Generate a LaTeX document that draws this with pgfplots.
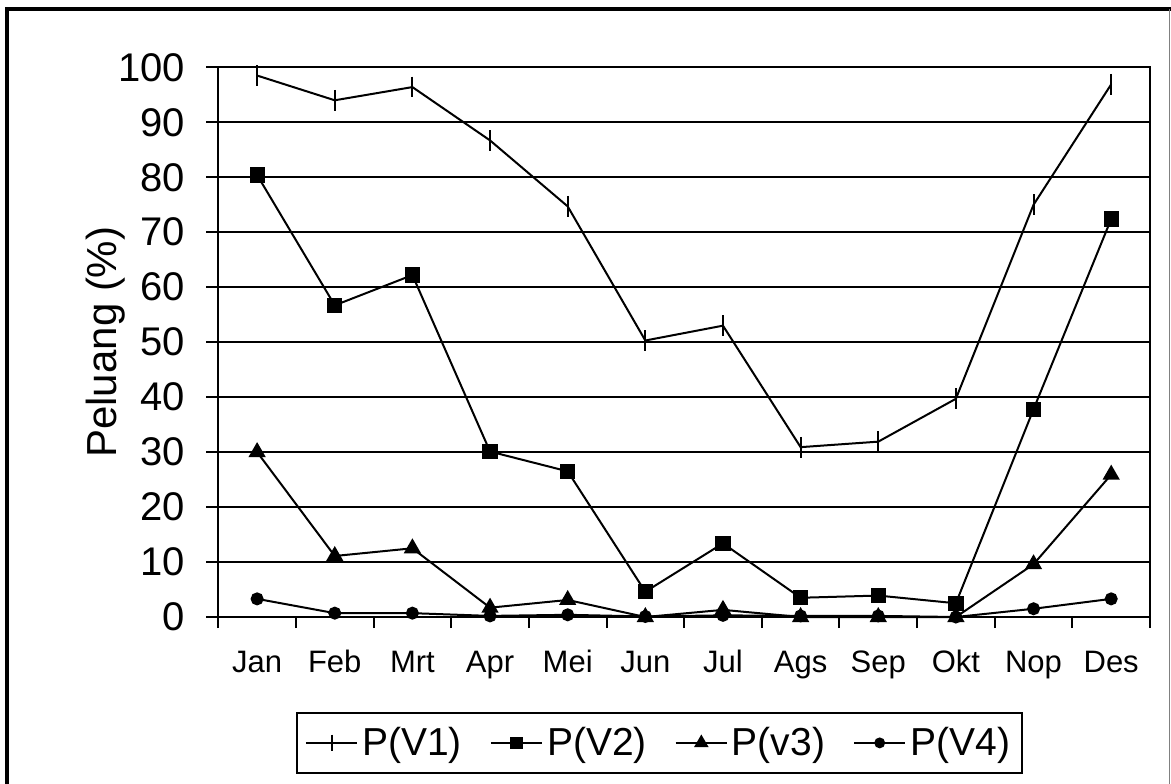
\documentclass[border=0pt]{standalone}
\usepackage{fontspec}
\setmainfont{Liberation Sans}
\usepackage{pgfplots}
\pgfplotsset{compat=1.18}
\begin{document}
\begin{tikzpicture}
\useasboundingbox (-109.15pt,-83pt) rectangle (476.35pt,308.5pt);
\begin{axis}[
  at={(0,0)}, anchor=origin,
  scale only axis,
  width=465.85pt, height=274.85pt,
  xmin=0.5, xmax=12.5, ymin=0, ymax=100,
  clip=false,
  axis line style={line width=1pt},
  xtick={1,...,12},
  xticklabels={Jan,Feb,Mrt,Apr,Mei,Jun,Jul,Ags,Sep,Okt,Nop,Des},
  major x tick style={draw=none},
  minor xtick={0.5,1.5,...,12.5},
  minor x tick style={line width=1pt, black},
  minor tick length=5.5pt,
  xticklabel style={font=\fontsize{15.5}{18}\selectfont, anchor=base, yshift=-21.5pt},
  ytick={0,10,...,100},
  ytick style={line width=1pt, black},
  major tick length=6pt,
  tick align=outside,
  tick pos=left,
  yticklabel style={font=\fontsize{20}{24}\selectfont, xshift=-7pt},
  /pgf/number format/assume math mode=true,
  ymajorgrids,
  grid style={line width=1pt, black},
  ylabel={Peluang (\%)},
  ylabel style={font=\fontsize{21}{24}\selectfont, at={(axis description cs:-0.121,0.5)}, anchor=center},
  legend columns=4,
  legend style={at={(axis description cs:0.4735,-0.229)}, anchor=center,
    draw=black, line width=1pt, font=\fontsize{19.5}{23}\selectfont,
    inner xsep=4pt, inner ysep=5pt,
    /tikz/every even column/.append style={column sep=12pt}},
  legend image code/.code={\draw[mark repeat=2,mark phase=2,mark options={scale=0.8}] plot coordinates {(0cm,0cm) (0.45cm,0cm) (0.9cm,0cm)};},
  every axis plot/.append style={line width=1pt, black, mark options={solid}},
]
\addplot[mark=|, mark size=5.2pt] coordinates {
(1,98.5) (2,94.0) (3,96.4) (4,86.7) (5,74.7) (6,50.3) (7,53.0) (8,30.9) (9,31.9) (10,39.7) (11,75.0) (12,96.9)};
\addlegendentry{P(V1)}
\addplot[mark=square*, mark size=3.3pt] coordinates {
(1,80.4) (2,56.7) (3,62.2) (4,30.1) (5,26.5) (6,4.6) (7,13.4) (8,3.5) (9,3.9) (10,2.5) (11,37.8) (12,72.4)};
\addlegendentry{P(V2)}
\addplot[mark=triangle*, mark size=4pt] coordinates {
(1,30.0) (2,11.1) (3,12.5) (4,1.7) (5,3.1) (6,0) (7,1.3) (8,0) (9,0) (10,0) (11,9.6) (12,25.9)};
\addlegendentry{P(v3)}
\addplot[mark=*, mark size=2.75pt] coordinates {
(1,3.3) (2,0.7) (3,0.7) (4,0.2) (5,0.4) (6,0.1) (7,0.3) (8,0.2) (9,0.2) (10,0) (11,1.5) (12,3.3)};
\addlegendentry{P(V4)}
\end{axis}
\draw[line width=2pt] (-105.65pt,-90pt) -- (-105.65pt,304pt) -- (480pt,304pt);
\draw[line width=0.8pt, gray] (475.6pt,304pt) -- (475.6pt,-90pt);
\end{tikzpicture}
\end{document}
